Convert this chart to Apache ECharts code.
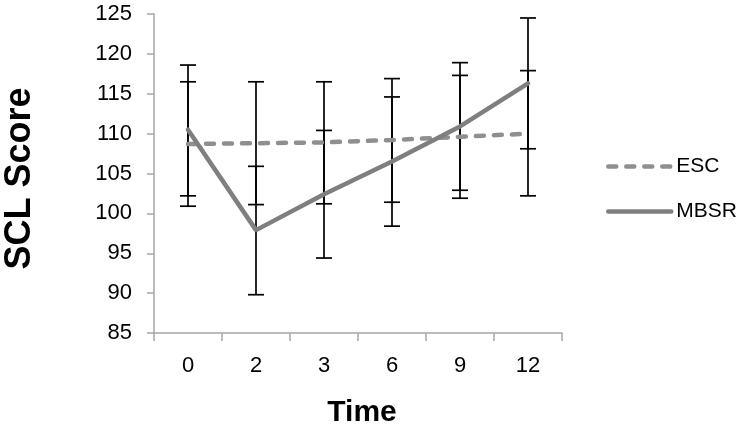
<!DOCTYPE html>
<html>
<head>
<meta charset="utf-8">
<script src="https://cdn.jsdelivr.net/npm/echarts@6/dist/echarts.min.js"></script>
<style>
html,body{margin:0;padding:0;background:#fff;}
#chart{width:751px;height:428px;}
</style>
</head>
<body>
<div id="chart"></div>
<script>
var categories = ['0', '2', '3', '6', '9', '12'];
var escMean = [108.7, 108.8, 108.9, 109.2, 109.6, 110.0];
var escHigh = [116.5, 116.5, 116.5, 116.9, 117.3, 117.9];
var escLow  = [100.9, 101.1, 101.2, 101.4, 101.9, 102.2];
var mbsrMean = [110.5, 97.9, 102.4, 106.5, 110.9, 116.3];
var mbsrHigh = [118.6, 105.9, 110.4, 114.6, 118.9, 124.5];
var mbsrLow  = [102.2, 89.8, 94.4, 98.4, 102.9, 108.1];
var yTicks = {min: 85, max: 125, interval: 5};

function errData(hi, lo) {
  return categories.map(function (c, i) { return [i, hi[i], lo[i]]; });
}
function renderErr(params, api) {
  var x = api.value(0);
  var pHi = api.coord([x, api.value(1)]);
  var pLo = api.coord([x, api.value(2)]);
  var half = 8;
  var st = {stroke: '#000', lineWidth: 1.7};
  return {
    type: 'group',
    children: [
      {type: 'line', shape: {x1: pHi[0], y1: pHi[1], x2: pLo[0], y2: pLo[1]}, style: st},
      {type: 'line', shape: {x1: pHi[0] - half, y1: pHi[1], x2: pHi[0] + half, y2: pHi[1]}, style: st},
      {type: 'line', shape: {x1: pLo[0] - half, y1: pLo[1], x2: pLo[0] + half, y2: pLo[1]}, style: st}
    ]
  };
}

var chart = echarts.init(document.getElementById('chart'), null, {renderer: 'canvas'});
var font = 'Liberation Sans, Arial, Helvetica, sans-serif';
chart.setOption({
  animation: false,
  backgroundColor: '#fff',
  textStyle: {fontFamily: font},
  grid: {left: 154, right: 189, top: 14, bottom: 95, containLabel: false, outerBoundsMode: 'none'},
  legend: {
    data: ['ESC', 'MBSR'],
    orient: 'vertical',
    left: 601,
    top: 151,
    itemWidth: 63,
    itemHeight: 14,
    itemGap: 24,
    itemStyle: {opacity: 0},
    lineStyle: {width: 4.5},
    textStyle: {fontSize: 21, color: '#000', fontFamily: font}
  },
  xAxis: {
    type: 'category',
    data: categories,
    boundaryGap: true,
    axisLine: {lineStyle: {color: '#a6a6a6', width: 1.5}},
    axisTick: {show: true, length: 8, lineStyle: {color: '#a6a6a6', width: 1.5}},
    axisLabel: {fontSize: 22, color: '#000', margin: 22, fontFamily: font},
    name: 'Time',
    nameLocation: 'middle',
    nameGap: 65,
    nameTextStyle: {fontSize: 30, fontWeight: 'bold', color: '#000', fontFamily: font, padding: [0, 0, 0, 8]}
  },
  yAxis: {
    type: 'value',
    min: yTicks.min,
    max: yTicks.max,
    interval: yTicks.interval,
    splitLine: {show: false},
    axisLine: {show: true, lineStyle: {color: '#a6a6a6', width: 1.5}},
    axisTick: {show: true, length: 7, lineStyle: {color: '#a6a6a6', width: 1.5}},
    axisLabel: {fontSize: 22, color: '#000', margin: 22, fontFamily: font},
    name: 'SCL Score',
    nameLocation: 'middle',
    nameGap: 116,
    nameTextStyle: {fontSize: 36, fontWeight: 'bold', color: '#000', fontFamily: font, padding: [0, 10, 0, 0]}
  },
  series: [
    {
      name: 'ESC-err', type: 'custom', renderItem: renderErr,
      data: errData(escHigh, escLow), encode: {x: 0, y: [1, 2]}, z: 1, silent: true
    },
    {
      name: 'MBSR-err', type: 'custom', renderItem: renderErr,
      data: errData(mbsrHigh, mbsrLow), encode: {x: 0, y: [1, 2]}, z: 1, silent: true
    },
    {
      name: 'ESC', type: 'line', data: escMean, symbol: 'none', z: 3,
      lineStyle: {color: '#8f8f8f', width: 4.5, type: [8, 10], cap: 'round'},
      itemStyle: {color: '#8f8f8f'}
    },
    {
      name: 'MBSR', type: 'line', data: mbsrMean, symbol: 'none', z: 3,
      lineStyle: {color: '#7f7f7f', width: 4.5, cap: 'round'},
      itemStyle: {color: '#7f7f7f'}
    }
  ]
});
</script>
</body>
</html>
